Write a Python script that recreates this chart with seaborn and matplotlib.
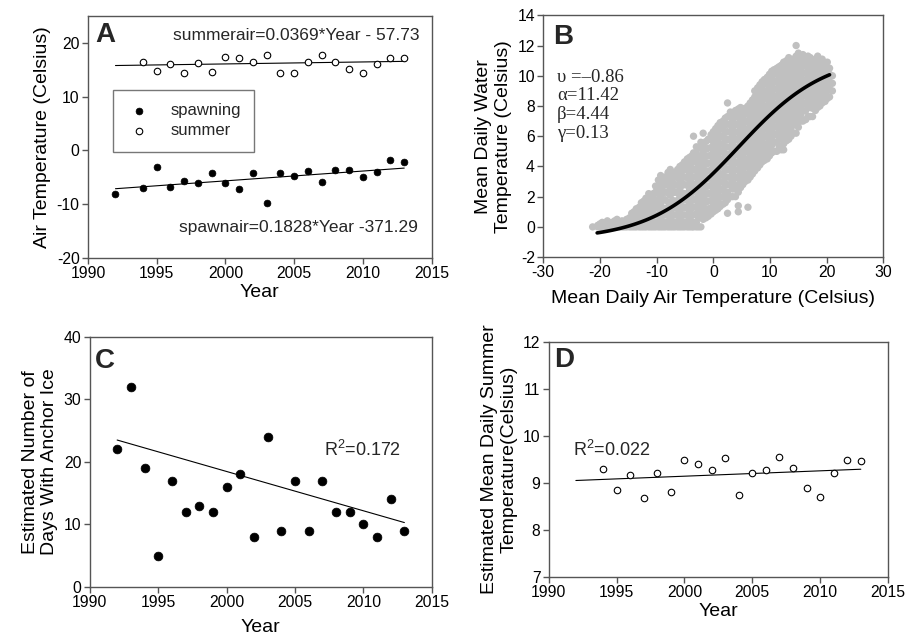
import numpy as np
import pandas as pd
import matplotlib
matplotlib.use("Agg")
import matplotlib.pyplot as plt
import seaborn as sns

# --- panel A: air temperature by year ---
spawn_years = [1992, 1994, 1995, 1996, 1997, 1998, 1999, 2000, 2001, 2002, 2003,
               2004, 2005, 2006, 2007, 2008, 2009, 2010, 2011, 2012, 2013]
spawn_air = [-8.2, -7.0, -3.1, -6.8, -5.7, -6.0, -4.3, -6.1, -7.2, -4.3, -9.9,
             -4.3, -4.7, -3.9, -5.9, -3.7, -3.7, -5.0, -4.1, -1.8, -2.1]
summer_years = [1994, 1995, 1996, 1997, 1998, 1999, 2000, 2001, 2002, 2003,
                2004, 2005, 2006, 2007, 2008, 2009, 2010, 2011, 2012, 2013]
summer_air = [16.5, 14.8, 16.0, 14.3, 16.2, 14.6, 17.4, 17.2, 16.5, 17.7,
              14.4, 14.3, 16.5, 17.7, 16.5, 15.1, 14.4, 16.0, 17.2, 17.2]
trend_years = [1992, 2013]
summer_fit = (0.0369, -57.73)
spawn_fit = (0.1828, -371.29)

# --- panel B: daily water vs air temperature (read column by column) ---
b_col_air = [-21.3, -20.4, -19.6, -18.7, -17.8, -17.0, -16.1, -15.3, -14.4, -13.6,
             -12.7, -11.9, -11.0, -10.2, -9.3, -8.5, -7.6, -6.8, -5.9, -5.1,
             -4.2, -3.5, -2.6, -1.8, -0.9, 0.0, 0.8, 1.7, 2.5, 3.4,
             4.4, 5.2, 6.1, 6.9, 7.8, 8.6, 9.5, 10.3, 11.2, 12.0,
             12.9, 13.7, 14.6, 15.4, 16.3, 17.1, 18.0, 18.8, 19.7, 20.5, 21.0]
b_col_water = [
    [0.0], [0.0, 0.1], [0.0, 0.3], [0.0, 0.05, 0.4], [0.0, 0.3], [0.0, 0.2, 0.5],
    [0.0, 0.4], [0.0, 0.1, 0.5], [0.0, 0.4, 0.9], [0.0, 0.3, 0.7, 1.2],
    [0.0, 0.5, 1.0, 1.6], [0.0, 0.3, 0.8, 1.3, 1.9], [0.0, 0.5, 1.0, 1.4, 2.0],
    [0.0, 0.3, 0.8, 1.3, 1.8, 2.3, 2.7], [0.0, 0.5, 1.0, 1.5, 2.0, 2.4, 3.0, 3.4],
    [0.0, 0.3, 0.8, 1.2, 1.8, 2.3, 2.8, 3.3], [0.0, 0.5, 1.0, 1.5, 2.1, 2.5, 3.0, 3.5, 3.8],
    [0.0, 0.3, 0.8, 1.3, 1.7, 2.3, 2.8, 3.3, 3.6], [0.0, 0.5, 1.0, 1.5, 2.0, 2.6, 3.0, 3.5, 4.0],
    [0.0, 0.3, 0.8, 1.3, 1.8, 2.2, 2.8, 3.3, 3.8, 4.3],
    [0.0, 0.5, 1.0, 1.5, 2.0, 2.5, 3.1, 3.5, 4.0, 4.6],
    [0.0, 0.3, 0.8, 1.3, 1.8, 2.3, 2.8, 3.3, 3.8, 4.3, 4.9, 6.0],
    [0.0, 0.6, 1.1, 1.6, 2.1, 2.6, 3.1, 3.6, 4.1, 4.6, 5.2],
    [0.5, 0.9, 1.4, 1.9, 2.4, 2.9, 3.4, 3.9, 4.4, 4.9, 5.5, 6.2],
    [0.7, 1.2, 1.7, 2.2, 2.7, 3.2, 3.7, 4.2, 4.7, 5.2, 5.8],
    [1.0, 1.4, 1.9, 2.4, 2.9, 3.4, 3.9, 4.4, 4.9, 5.4, 5.9, 6.3],
    [1.2, 1.7, 2.2, 2.7, 3.2, 3.7, 4.2, 4.7, 5.2, 5.7, 6.2, 6.7],
    [1.5, 2.0, 2.5, 3.0, 3.5, 4.0, 4.5, 5.0, 5.5, 6.0, 6.5, 7.0],
    [0.9, 1.8, 2.3, 2.8, 3.3, 3.8, 4.3, 4.8, 5.3, 5.8, 6.3, 6.8, 7.3, 8.2],
    [2.0, 2.5, 3.0, 3.5, 4.0, 4.5, 5.0, 5.5, 6.0, 6.5, 7.0, 7.5],
    [1.0, 1.4, 2.3, 2.8, 3.3, 3.8, 4.3, 4.8, 5.3, 5.8, 6.3, 6.8, 7.3, 7.8],
    [2.8, 3.2, 3.7, 4.2, 4.7, 5.2, 5.7, 6.2, 6.7, 7.2, 7.7],
    [1.3, 3.1, 3.5, 4.0, 4.5, 5.0, 5.5, 6.0, 6.5, 7.0, 7.5, 8.0],
    [3.5, 3.9, 4.4, 4.9, 5.4, 5.9, 6.4, 6.9, 7.4, 7.9, 8.4],
    [3.9, 4.3, 4.8, 5.3, 5.8, 6.3, 6.8, 7.3, 7.8, 8.3, 8.8, 9.2],
    [4.3, 4.7, 5.2, 5.7, 6.2, 6.7, 7.2, 7.7, 8.2, 8.7, 9.2, 9.6],
    [4.5, 5.0, 5.5, 6.0, 6.5, 7.0, 7.5, 8.0, 8.5, 9.0, 9.5, 9.9],
    [4.9, 5.4, 5.9, 6.4, 6.9, 7.4, 7.9, 8.4, 8.9, 9.4, 9.9, 10.3],
    [5.0, 5.6, 6.1, 6.6, 7.1, 7.6, 8.1, 8.6, 9.1, 9.6, 10.1, 10.5],
    [5.1, 5.8, 6.3, 6.8, 7.3, 7.8, 8.3, 8.8, 9.3, 9.8, 10.3, 10.7],
    [5.7, 6.2, 6.7, 7.2, 7.7, 8.2, 8.7, 9.2, 9.7, 10.2, 10.6, 11.0],
    [6.0, 6.5, 7.0, 7.5, 8.0, 8.5, 9.0, 9.5, 10.0, 10.5, 11.0],
    [6.2, 6.9, 7.4, 7.9, 8.4, 8.9, 9.4, 9.9, 10.4, 10.9, 11.3, 12.0],
    [7.0, 7.4, 7.9, 8.4, 8.9, 9.4, 9.9, 10.4, 10.9, 11.3],
    [7.1, 7.7, 8.2, 8.7, 9.2, 9.7, 10.2, 10.7, 11.2],
    [7.3, 7.9, 8.4, 8.9, 9.4, 9.9, 10.4, 10.9, 11.2],
    [7.7, 8.2, 8.7, 9.2, 9.7, 10.2, 10.7, 11.1],
    [8.0, 8.5, 9.0, 9.5, 10.0, 10.5, 11.0],
    [8.3, 8.8, 9.3, 9.8, 10.3, 10.8],
    [8.6, 9.1, 9.6, 10.1, 10.5],
    [9.0, 9.5, 10.0],
]
# second pass of columns, read between the first ones
b_mid_air = [-20.0, -19.1, -18.2, -17.4, -16.5, -15.7, -14.8, -14.0, -13.1, -12.3,
             -11.4, -10.6, -9.7, -8.9, -8.0, -7.2, -6.3, -5.5, -4.6, -3.8,
             -3.0, -2.2, -1.3, -0.4, 0.4, 1.2, 2.1, 3.0, 3.9, 4.8,
             5.6, 6.5, 7.3, 8.2, 9.0, 9.9, 10.7, 11.6, 12.4, 13.3,
             14.1, 15.0, 15.8, 16.7, 17.5, 18.4, 19.2, 20.1]
b_mid_water = [
    [0.0, 0.2], [0.0, 0.15], [0.0, 0.25], [0.0, 0.4], [0.0, 0.25], [0.0, 0.3],
    [0.0, 0.25, 0.6], [0.0, 0.5, 1.0], [0.0, 0.2, 0.6, 1.0, 1.3],
    [0.0, 0.25, 0.75, 1.2, 1.7], [0.0, 0.25, 0.75, 1.15, 1.6, 2.2],
    [0.0, 0.25, 0.75, 1.2, 1.7, 2.2], [0.0, 0.25, 0.75, 1.25, 1.7, 2.2, 2.6, 3.1],
    [0.0, 0.25, 0.75, 1.25, 1.75, 2.25, 2.7, 3.1],
    [0.0, 0.25, 0.75, 1.25, 1.65, 2.25, 2.75, 3.2, 3.6],
    [0.0, 0.25, 0.75, 1.25, 1.75, 2.25, 2.65, 3.2, 3.6],
    [0.0, 0.25, 0.75, 1.2, 1.75, 2.25, 2.75, 3.25, 3.8],
    [0.0, 0.25, 0.75, 1.25, 1.75, 2.25, 2.75, 3.25, 3.7, 4.1],
    [0.0, 0.25, 0.75, 1.25, 1.75, 2.2, 2.75, 3.25, 3.75, 4.2, 4.5],
    [0.0, 0.25, 0.75, 1.25, 1.75, 2.25, 2.7, 3.25, 3.75, 4.25, 4.7],
    [0.0, 0.3, 0.85, 1.35, 1.85, 2.35, 2.85, 3.35, 3.85, 4.35, 4.85, 5.3],
    [0.0, 0.75, 1.25, 1.65, 2.15, 2.65, 3.15, 3.65, 4.15, 4.7, 5.3, 5.6],
    [0.6, 1.05, 1.65, 2.15, 2.65, 3.15, 3.65, 4.15, 4.65, 5.15, 5.65],
    [0.85, 1.25, 1.75, 2.25, 2.75, 3.25, 3.75, 4.25, 4.75, 5.25, 5.75, 6.1],
    [1.1, 1.6, 2.15, 2.65, 3.15, 3.65, 4.15, 4.65, 5.15, 5.65, 6.15, 6.5],
    [1.35, 1.95, 2.45, 2.95, 3.45, 3.95, 4.45, 4.95, 5.45, 5.95, 6.45, 6.9],
    [1.6, 2.2, 2.75, 3.25, 3.75, 4.25, 4.75, 5.25, 5.75, 6.25, 6.75, 7.2],
    [2.0, 2.75, 3.25, 3.75, 4.25, 4.75, 5.25, 5.75, 6.25, 6.75, 7.25, 7.6],
    [2.0, 2.5, 2.75, 3.25, 3.75, 4.25, 4.75, 5.25, 5.75, 6.25, 6.75, 7.25, 7.7],
    [2.6, 3.05, 3.55, 4.05, 4.55, 5.05, 5.55, 6.05, 6.55, 7.05, 7.5, 7.9],
    [3.0, 3.45, 3.95, 4.45, 4.95, 5.45, 5.95, 6.45, 6.95, 7.45, 7.85],
    [3.3, 3.75, 4.25, 4.75, 5.25, 5.75, 6.25, 6.75, 7.25, 7.75, 8.2],
    [3.7, 4.15, 4.65, 5.15, 5.65, 6.15, 6.65, 7.15, 7.65, 8.15, 8.6, 9.0],
    [4.1, 4.5, 5.0, 5.5, 6.0, 6.5, 7.0, 7.5, 8.0, 8.5, 9.0, 9.4],
    [4.4, 4.9, 5.45, 5.95, 6.45, 6.95, 7.45, 7.95, 8.45, 8.95, 9.45, 9.75],
    [4.7, 5.2, 5.7, 6.2, 6.7, 7.2, 7.7, 8.2, 8.7, 9.2, 9.7, 10.1],
    [5.0, 5.6, 6.15, 6.65, 7.15, 7.65, 8.15, 8.65, 9.15, 9.65, 10.15, 10.4],
    [5.3, 5.85, 6.35, 6.85, 7.35, 7.85, 8.35, 8.85, 9.35, 9.85, 10.35, 10.6],
    [5.1, 5.5, 6.05, 6.55, 7.05, 7.55, 8.05, 8.55, 9.05, 9.55, 10.05, 10.5, 10.9],
    [5.8, 6.45, 6.95, 7.45, 7.95, 8.45, 8.95, 9.45, 9.95, 10.45, 10.8, 11.2],
    [6.2, 6.75, 7.25, 7.75, 8.25, 8.75, 9.25, 9.75, 10.25, 10.75, 11.1],
    [6.6, 7.15, 7.65, 8.15, 8.65, 9.15, 9.65, 10.15, 10.65, 11.1, 11.5],
    [7.0, 7.65, 8.15, 8.65, 9.15, 9.65, 10.15, 10.65, 11.05, 11.4],
    [7.3, 7.9, 8.45, 8.95, 9.45, 9.95, 10.45, 10.95, 11.3],
    [7.3, 7.85, 8.15, 8.65, 9.15, 9.65, 10.15, 10.65, 11.0],
    [7.9, 8.45, 8.95, 9.45, 9.95, 10.45, 10.9, 11.3],
    [8.2, 8.7, 9.2, 9.7, 10.2, 10.7, 11.1],
    [8.5, 9.0, 9.5, 10.0, 10.5, 10.9],
]
# logistic fit shown in the panel
nu, alpha, beta, gamma = -0.86, 11.42, 4.44, 0.13
b_fit_range = (-20.5, 20.5)

# --- panel C: anchor ice days ---
c_years = list(range(1992, 2014))
c_days = [22, 32, 19, 5, 17, 12, 13, 12, 16, 18, 8, 24, 9, 17, 9, 17, 12, 12, 10, 8, 14, 9]
c_trend = [23.5, 10.3]

# --- panel D: mean daily summer temperature ---
d_years = list(range(1994, 2014))
d_temp = [9.29, 8.85, 9.16, 8.68, 9.21, 8.80, 9.48, 9.40, 9.27, 9.52,
          8.75, 9.22, 9.28, 9.55, 9.31, 8.90, 8.70, 9.21, 9.48, 9.46]
d_trend = [9.05, 9.29]

sns.set_theme(style="ticks")
plt.rcParams['font.family'] = ['Liberation Sans', 'DejaVu Sans']
plt.rcParams['axes.unicode_minus'] = False
plt.rcParams['mathtext.fontset'] = 'custom'
plt.rcParams['mathtext.rm'] = 'Liberation Sans'

SPINE = '#555555'
TICK_FS = 11.3
LABEL_FS = 14


def style(ax, xlim, xticks, ylim, yticks, xlabel, ylabel, letter, lx, ly, xpad=2):
    ax.set_xlim(xlim)
    ax.set_xticks(xticks)
    ax.set_ylim(ylim)
    ax.set_yticks(yticks)
    ax.set_xlabel(xlabel, fontsize=LABEL_FS, color='black', labelpad=xpad)
    ax.set_ylabel(ylabel, fontsize=LABEL_FS, color='black', labelpad=4)
    for s in ax.spines.values():
        s.set_visible(True)
        s.set_color(SPINE)
        s.set_linewidth(1.0)
    ax.tick_params(direction='out', length=4, width=1, color=SPINE,
                   labelsize=TICK_FS, labelcolor='black', top=False, right=False, pad=2)
    ax.text(lx, ly, letter, transform=ax.transAxes, fontsize=20,
            fontweight='bold', va='top', ha='left')


fig = plt.figure(figsize=(9.07, 6.38), dpi=100)
axA = fig.add_axes([0.097, 0.596, 0.379, 0.379])
axB = fig.add_axes([0.599, 0.597, 0.375, 0.379])
axC = fig.add_axes([0.099, 0.080, 0.377, 0.392])
axD = fig.add_axes([0.605, 0.096, 0.374, 0.368])

# A
sns.scatterplot(x=spawn_years, y=spawn_air, ax=axA, color='black', s=24,
                edgecolor='black', linewidth=0.5, label='spawning', zorder=3)
sns.scatterplot(x=summer_years, y=summer_air, ax=axA, color='white', s=22,
                edgecolor='black', linewidth=0.8, label='summer', zorder=3)
ty = np.array(trend_years, dtype=float)
sns.lineplot(x=ty, y=summer_fit[0] * ty + summer_fit[1], ax=axA, color='black', lw=0.8)
sns.lineplot(x=ty, y=spawn_fit[0] * ty + spawn_fit[1], ax=axA, color='black', lw=0.8)
axA.text(2014.1, 21.3, "summerair=0.0369*Year - 57.73", ha='right', va='center', fontsize=12.5)
axA.text(2014.0, -14.4, "spawnair=0.1828*Year -371.29", ha='right', va='center', fontsize=12.5)
leg = axA.legend(loc='upper left', bbox_to_anchor=(0.073, 0.694), borderaxespad=0,
                 fontsize=12, frameon=True, fancybox=False, edgecolor=SPINE,
                 borderpad=0.8, handlelength=1.5, handletextpad=1.15, labelspacing=0.3)
leg.get_frame().set_linewidth(1.0)
style(axA, (1990, 2015), range(1990, 2016, 5), (-20, 25), range(-20, 21, 10),
      "Year", "Air Temperature (Celsius)", "A", 0.02, 0.975)

# B
b_df = pd.concat([
    pd.DataFrame({'air': b_col_air, 'water': b_col_water}),
    pd.DataFrame({'air': b_mid_air, 'water': b_mid_water}),
]).explode('water')
b_df['water'] = b_df['water'].astype(float)
sns.scatterplot(data=b_df, x='air', y='water', ax=axB, color='#c0c0c0', s=28,
                edgecolor='none', linewidth=0)
fx = np.linspace(b_fit_range[0], b_fit_range[1], 120)
fy = nu + (alpha - nu) / (1 + np.exp(gamma * (beta - fx)))
sns.lineplot(x=fx, y=fy, ax=axB, color='black', lw=2.6)
axB.text(0.04, 0.78, "υ =–0.86\nα=11.42\nβ=4.44\nγ=0.13", transform=axB.transAxes,
         va='top', ha='left', fontsize=13.5, linespacing=1.15,
         family=['Liberation Serif', 'DejaVu Serif'])
style(axB, (-30, 30), range(-30, 31, 10), (-2, 14), range(-2, 15, 2),
      "Mean Daily Air Temperature (Celsius)", "Mean Daily Water\nTemperature (Celsius)",
      "B", 0.028, 0.965, xpad=7)

# C
sns.scatterplot(x=c_years, y=c_days, ax=axC, color='black', s=40,
                edgecolor='black', linewidth=0.5, zorder=3)
sns.lineplot(x=trend_years, y=c_trend, ax=axC, color='black', lw=0.8)
axC.text(2007.1, 21.9, r"R$^{2}$=0.172", ha='left', va='center', fontsize=13)
style(axC, (1990, 2015), range(1990, 2016, 5), (0, 40), range(0, 41, 10),
      "Year", "Estimated Number of\nDays With Anchor Ice", "C", 0.015, 0.955, xpad=6)

# D
sns.scatterplot(x=d_years, y=d_temp, ax=axD, color='white', s=22,
                edgecolor='black', linewidth=0.8, zorder=3)
sns.lineplot(x=trend_years, y=d_trend, ax=axD, color='black', lw=0.8)
axD.text(1991.8, 9.69, r"R$^{2}$=0.022", ha='left', va='center', fontsize=13)
style(axD, (1990, 2015), range(1990, 2016, 5), (7, 12), range(7, 13, 1),
      "Year", "Estimated Mean Daily Summer\nTemperature(Celsius)", "D", 0.015, 0.98)

fig.savefig("out.png", dpi=100)
